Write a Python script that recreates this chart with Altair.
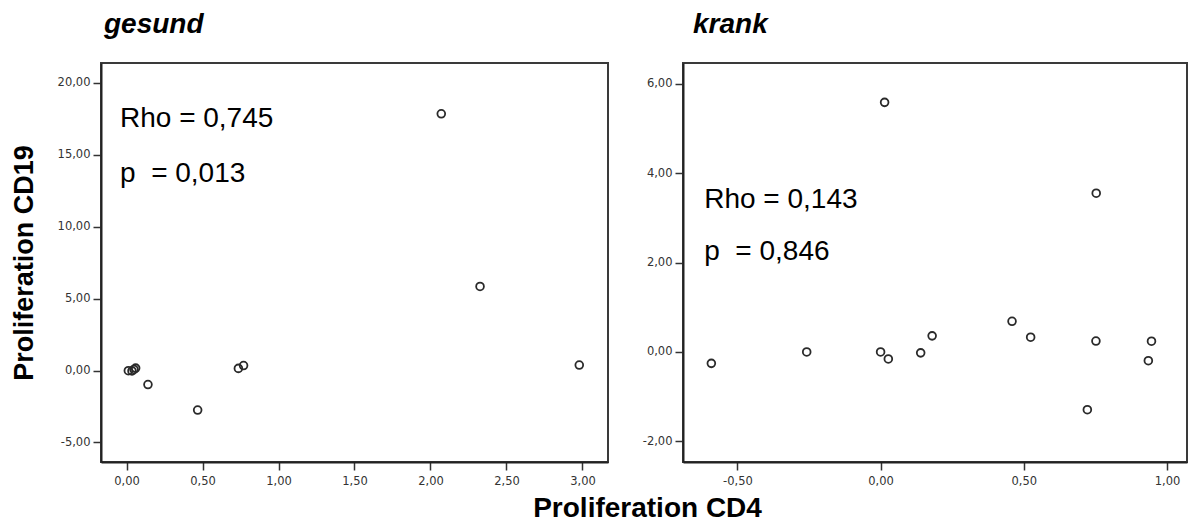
import altair as alt
import pandas as pd

# ---- data ----
gesund_x = [0.012, 0.036, 0.049, 0.060, 0.141, 0.468, 0.736, 0.770, 2.071, 2.326, 2.979]
gesund_y = [-0.01, -0.03, 0.08, 0.17, -0.97, -2.75, 0.15, 0.35, 17.86, 5.85, 0.38]

krank_x = [-0.591, -0.258, 0.000, 0.027, 0.014, 0.140, 0.180, 0.459, 0.524, 0.753, 0.752, 0.722, 0.946, 0.935]
krank_y = [-0.255, 0.00, 0.00, -0.157, 5.58, -0.02, 0.36, 0.685, 0.33, 3.55, 0.245, -1.29, 0.24, -0.195]

gesund_ann_text = ["Rho = 0,745", "p\u00a0 = 0,013"]
gesund_ann_x = [-0.043, -0.043]
gesund_ann_y = [16.94, 13.11]

krank_ann_text = ["Rho = 0,143", "p\u00a0 = 0,846"]
krank_ann_x = [-0.616, -0.616]
krank_ann_y = [3.21, 2.05]

gesund_xticks = [0.0, 0.5, 1.0, 1.5, 2.0, 2.5, 3.0]
gesund_yticks = [-5, 0, 5, 10, 15, 20]
krank_xticks = [-0.5, 0.0, 0.5, 1.0]
krank_yticks = [-2, 0, 2, 4, 6]

gesund_xdom = [-0.168, 3.168]
gesund_ydom = [-6.36, 21.39]
krank_xdom = [-0.69, 1.07]
krank_ydom = [-2.46, 6.46]

FONT = "Liberation Sans"
TICKFONT = "DejaVu Sans"
FMT = "replace(replace(format(datum.value, '.2f'), '.', ','), '\u2212', '-')"


def panel(xs, ys, ax, ay, at, xdom, ydom, xticks, yticks, w, h, title, title_dx, ytitle):
    df = pd.DataFrame({"x": xs, "y": ys})
    ann = pd.DataFrame({"x": ax, "y": ay, "t": at})
    xsc = alt.Scale(domain=xdom, nice=False, zero=False)
    ysc = alt.Scale(domain=ydom, nice=False, zero=False)
    xaxis = alt.Axis(values=xticks, labelExpr=FMT, grid=False, labelPadding=5)
    if ytitle:
        yaxis = alt.Axis(values=yticks, labelExpr=FMT, grid=False, labelPadding=3,
                         titleFontSize=27, titleFontWeight="bold", titleFont=FONT,
                         titleColor="#000000", titlePadding=19)
    else:
        yaxis = alt.Axis(values=yticks, labelExpr=FMT, grid=False, labelPadding=3)
    pts = alt.Chart(df).mark_point(
        shape="circle", filled=False, stroke="#2a2a2a", strokeWidth=1.8, size=60, opacity=1
    ).encode(
        x=alt.X("x:Q", scale=xsc, axis=xaxis, title=None),
        y=alt.Y("y:Q", scale=ysc, axis=yaxis, title=ytitle if ytitle else None),
    )
    txt = alt.Chart(ann).mark_text(
        align="left", baseline="alphabetic", fontSize=28, font=FONT, color="#000000"
    ).encode(
        x=alt.X("x:Q", scale=xsc),
        y=alt.Y("y:Q", scale=ysc),
        text="t:N",
    )
    return alt.layer(pts, txt).properties(
        width=w, height=h,
        title=alt.TitleParams(title, anchor="start", frame="group", dx=title_dx, fontSize=28,
                              fontStyle="italic", fontWeight="bold", font=FONT,
                              color="#000000", offset=24),
    )


left = panel(gesund_x, gesund_y, gesund_ann_x, gesund_ann_y, gesund_ann_text,
             gesund_xdom, gesund_ydom, gesund_xticks, gesund_yticks,
             507, 399, "gesund", 3, "Proliferation CD19")
right = panel(krank_x, krank_y, krank_ann_x, krank_ann_y, krank_ann_text,
              krank_xdom, krank_ydom, krank_xticks, krank_yticks,
              504, 399, "krank", 10, None)

chart = alt.hconcat(left, right, spacing=32).properties(
    title=alt.TitleParams("Proliferation CD4", orient="bottom", anchor="middle",
                          fontSize=28, fontWeight="bold", font=FONT, color="#000000",
                          offset=7, dx=49),
    padding={"left": 9, "top": 10, "right": 0, "bottom": 0},
    background="white",
).configure_view(
    stroke="#3a3a3a", strokeWidth=2
).configure_axis(
    domainColor="#222222", domainWidth=2, tickColor="#333333", tickSize=8,
    tickWidth=1.5, labelFont=TICKFONT, labelFontSize=11.5, labelColor="#333333",
)

chart.save("out.html", embed_options={"renderer": "svg", "actions": False})
